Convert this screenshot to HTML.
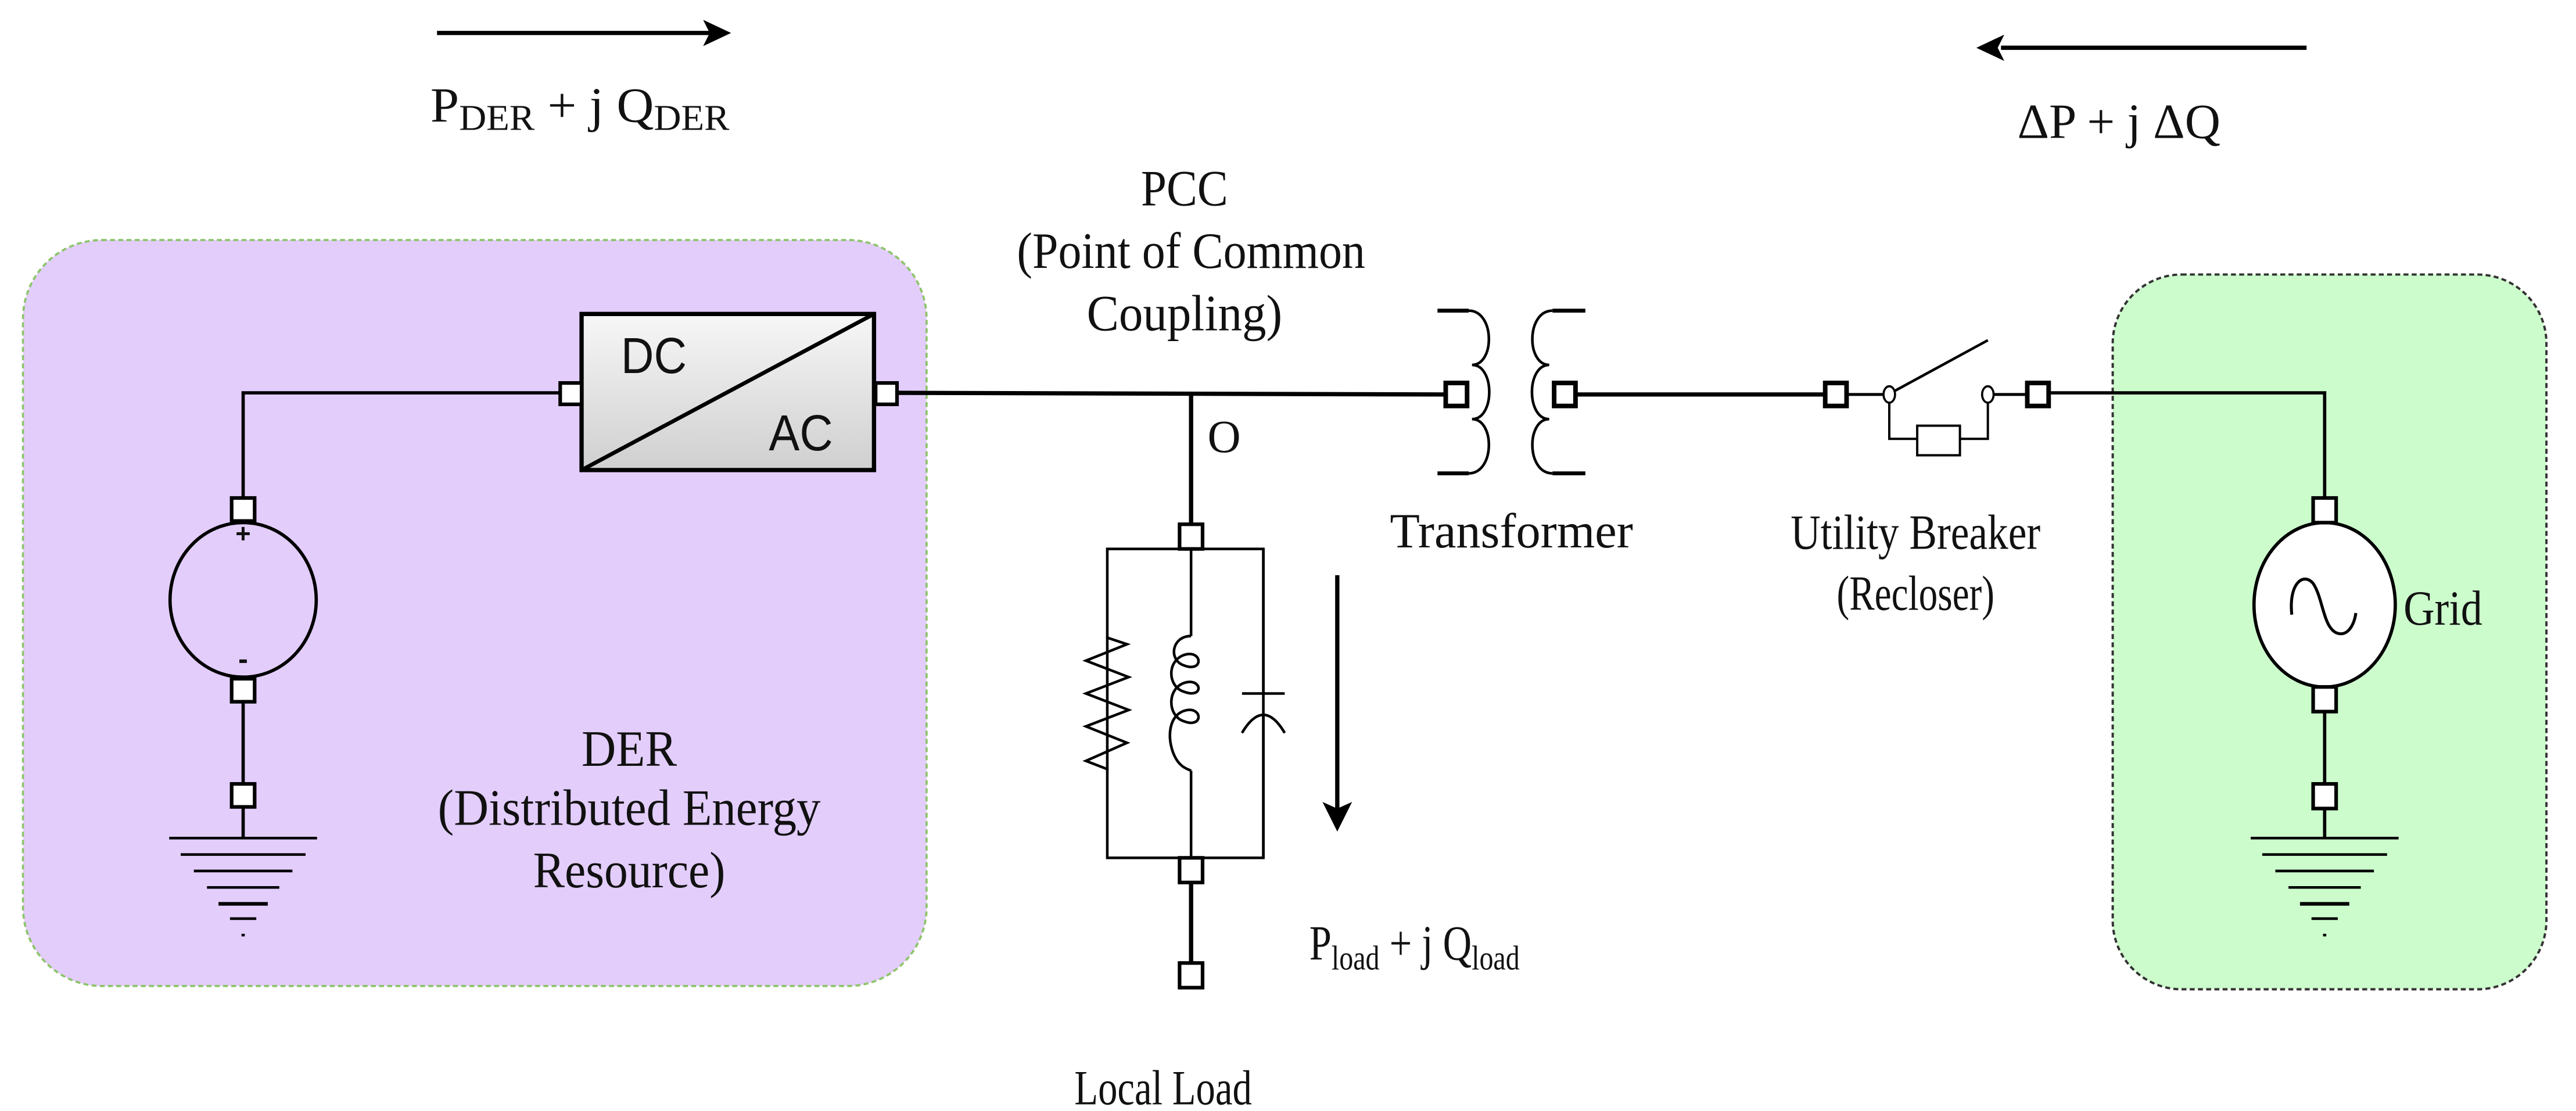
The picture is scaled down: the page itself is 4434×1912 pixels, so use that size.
<!DOCTYPE html>
<html><head><meta charset="utf-8"><style>
html,body{margin:0;padding:0;background:#fff;}
svg{display:block;}
text{font-family:"Liberation Serif",serif;fill:#111;}
.s{font-family:"Liberation Sans",sans-serif;}
</style></head><body>
<svg width="4434" height="1912" viewBox="0 0 1568 676" xmlns="http://www.w3.org/2000/svg">
<defs>
<linearGradient id="g" x1="0" y1="0" x2="0" y2="1">
<stop offset="0" stop-color="#f7f7f7"/><stop offset="1" stop-color="#cfcfcf"/>
</linearGradient>
</defs>
<rect width="1568" height="676" fill="#fff"/>
<rect x="14" y="146" width="550" height="454" rx="48" fill="#e3cdfb" stroke="#8cc46a" stroke-width="1.3" stroke-dasharray="3,2"/>
<rect x="1286" y="167" width="264" height="435" rx="42" fill="#ccfccc" stroke="#333" stroke-width="1.4" stroke-dasharray="3,2"/>

<line x1="266" y1="20" x2="432" y2="20" stroke="#000" stroke-width="2.6"/>
<polygon points="445,20 428,12 432,20 428,28" fill="#000"/>
<line x1="1404" y1="29" x2="1218" y2="29" stroke="#000" stroke-width="2.6"/>
<polygon points="1203,29 1220,21 1216,29 1220,37" fill="#000"/>
<text x="262" y="74" font-size="30" textLength="182" lengthAdjust="spacingAndGlyphs">P<tspan font-size="22" dy="5">DER</tspan><tspan dy="-5"> + j Q</tspan><tspan font-size="22" dy="5">DER</tspan></text>
<text x="1228" y="84" font-size="30">ΔP + j ΔQ</text>

<g stroke="#000" fill="none" stroke-width="2">
<polyline points="148,303 148,239 341,239"/>
<ellipse cx="148" cy="365" rx="44.5" ry="47" fill="#e3cdfb"/>
<line x1="148" y1="427" x2="148" y2="476"/>
<line x1="148" y1="492" x2="148" y2="510"/>
<g stroke-width="1.6">
<line x1="103" y1="510" x2="193" y2="510"/>
<line x1="110" y1="520" x2="186" y2="520"/>
<line x1="118" y1="530" x2="178" y2="530"/>
<line x1="126" y1="540" x2="170" y2="540"/>
<line x1="133" y1="550" x2="163" y2="550" stroke-width="2.2"/>
<line x1="140" y1="559" x2="156" y2="559"/>
<line x1="147" y1="569" x2="149" y2="569"/>
</g>
<rect x="354" y="191" width="178" height="95" fill="url(#g)" stroke-width="2.6"/>
<line x1="354" y1="286" x2="532" y2="191" stroke-width="2.4"/>
<line x1="546" y1="239" x2="880" y2="240" stroke-width="2.6"/>
<line x1="725" y1="240" x2="725" y2="319" stroke-width="2.6"/>
<rect x="674" y="334" width="95" height="188" stroke-width="1.6"/>
<line x1="725" y1="334" x2="725" y2="387" stroke-width="1.6"/>
<line x1="725" y1="469" x2="725" y2="522" stroke-width="1.6"/>
<polyline stroke-width="1.6" points="674,387 674,388 686,392 661,402 687,412 661,422 687,432 661,442 686,452 661,463 674,468 674,469"/>
<path stroke-width="1.6" d="M725,387 C713,387 711,402 721,405 C732,409 732,397 723,398 C710,400 710,418 721,421 C732,425 732,414 723,415 C710,417 710,436 721,439 C732,443 732,431 723,432 C710,434 710,452 716,462 C719,467 723,468 725,469"/>
<line x1="769" y1="334" x2="769" y2="422" stroke-width="1.6"/>
<line x1="756" y1="422" x2="782" y2="422" stroke-width="1.6"/>
<path stroke-width="1.6" d="M756,446 Q769,424 782,446"/>
<line x1="769" y1="434" x2="769" y2="522" stroke-width="1.6"/>
<line x1="725" y1="538" x2="725" y2="586" stroke-width="2.6"/>
<g stroke-width="1.6">
<line x1="875" y1="189" x2="894" y2="189" stroke-width="2.4"/>
<line x1="875" y1="288" x2="894" y2="288" stroke-width="2.4"/>
<path d="M894,189 C910,189 910,222 896,222 C910,222 910,255 896,255 C910,255 910,288 894,288"/>
<line x1="945" y1="189" x2="965" y2="189" stroke-width="2.4"/>
<line x1="945" y1="288" x2="965" y2="288" stroke-width="2.4"/>
<path d="M945,189 C929,189 929,222 943,222 C929,222 929,255 943,255 C929,255 929,288 945,288"/>
</g>
<line x1="959" y1="240" x2="1111" y2="240" stroke-width="2.6"/>
<line x1="1124" y1="240" x2="1147" y2="240" stroke-width="1.8"/>
<line x1="1153" y1="238" x2="1210" y2="207" stroke-width="1.6"/>
<line x1="1213" y1="240" x2="1234" y2="240" stroke-width="1.8"/>
<polyline stroke-width="1.4" points="1150,244 1150,267 1167,267"/>
<polyline stroke-width="1.4" points="1193,267 1210,267 1210,244"/>
<rect x="1167" y="259" width="26" height="18" fill="#fff" stroke-width="1.4"/>
<polyline points="1247,239 1415,239 1415,303"/>
<ellipse cx="1415" cy="368" rx="43" ry="50" fill="#fff"/>
<path stroke-width="1.8" d="M1395,374 C1393,355 1402,348 1408,355 C1414,364 1414,381 1422,385 C1429,388 1433,380 1434,373"/>
<line x1="1415" y1="433" x2="1415" y2="476"/>
<line x1="1415" y1="492" x2="1415" y2="510"/>
<g stroke-width="1.6">
<line x1="1370" y1="510" x2="1460" y2="510"/>
<line x1="1377" y1="520" x2="1453" y2="520"/>
<line x1="1385" y1="530" x2="1445" y2="530"/>
<line x1="1393" y1="540" x2="1437" y2="540"/>
<line x1="1400" y1="550" x2="1430" y2="550" stroke-width="2.2"/>
<line x1="1407" y1="559" x2="1423" y2="559"/>
<line x1="1414" y1="569" x2="1416" y2="569"/>
</g>
<line x1="814" y1="350" x2="814" y2="492" stroke-width="2.6"/>
</g>
<polygon points="814,506 805,488 814,492 823,488" fill="#000"/>

<g fill="#fff" stroke="#000" stroke-width="2.2">
<rect x="141" y="303" width="14" height="14"/>
<rect x="141" y="413" width="14" height="14"/>
<rect x="141" y="477" width="14" height="14"/>
<rect x="341" y="233" width="13" height="13"/>
<rect x="533" y="233" width="13" height="13"/>
<rect x="718" y="319" width="14" height="15"/>
<rect x="718" y="522" width="14" height="15"/>
<rect x="718" y="586" width="14" height="15"/>
<rect x="880" y="233" width="13" height="14" stroke-width="2.8"/>
<rect x="946" y="233" width="13" height="14" stroke-width="2.8"/>
<rect x="1111" y="233" width="13" height="14" stroke-width="2.8"/>
<rect x="1234" y="233" width="13" height="14" stroke-width="2.8"/>
<rect x="1408" y="303" width="14" height="15"/>
<rect x="1408" y="418" width="14" height="15"/>
<rect x="1408" y="477" width="14" height="15"/>
</g>
<g fill="#fff" stroke="#000" stroke-width="1.3">
<ellipse cx="1150" cy="240" rx="3.5" ry="5"/>
<ellipse cx="1210" cy="240" rx="3.5" ry="5"/>
</g>
<text x="148" y="330" font-size="16" text-anchor="middle" class="s" font-weight="bold">+</text>
<text x="148" y="407" font-size="18" text-anchor="middle" class="s" font-weight="bold">-</text>

<text x="378" y="227" font-size="31" class="s" textLength="40" lengthAdjust="spacingAndGlyphs">DC</text>
<text x="468" y="274" font-size="31" class="s" textLength="39" lengthAdjust="spacingAndGlyphs">AC</text>
<text x="383" y="466" font-size="31" text-anchor="middle" textLength="58" lengthAdjust="spacingAndGlyphs">DER</text>
<text x="383" y="502" font-size="31" text-anchor="middle" textLength="233" lengthAdjust="spacingAndGlyphs">(Distributed Energy</text>
<text x="383" y="540" font-size="31" text-anchor="middle" textLength="117" lengthAdjust="spacingAndGlyphs">Resource)</text>
<text x="721" y="125" font-size="31" text-anchor="middle" textLength="53" lengthAdjust="spacingAndGlyphs">PCC</text>
<text x="725" y="163" font-size="31" text-anchor="middle" textLength="212" lengthAdjust="spacingAndGlyphs">(Point of Common</text>
<text x="721" y="201" font-size="31" text-anchor="middle" textLength="119" lengthAdjust="spacingAndGlyphs">Coupling)</text>
<text x="735" y="275" font-size="28">O</text>
<text x="920" y="333" font-size="30" text-anchor="middle" textLength="148" lengthAdjust="spacingAndGlyphs">Transformer</text>
<text x="1166" y="334" font-size="30" text-anchor="middle" textLength="152" lengthAdjust="spacingAndGlyphs">Utility Breaker</text>
<text x="1166" y="371" font-size="30" text-anchor="middle" textLength="96" lengthAdjust="spacingAndGlyphs">(Recloser)</text>
<text x="1463" y="380" font-size="30" textLength="48" lengthAdjust="spacingAndGlyphs">Grid</text>
<text x="797" y="584" font-size="30" textLength="128" lengthAdjust="spacingAndGlyphs">P<tspan font-size="21" dy="6">load</tspan><tspan dy="-6"> + j Q</tspan><tspan font-size="21" dy="6">load</tspan></text>
<text x="708" y="672" font-size="30" text-anchor="middle" textLength="108" lengthAdjust="spacingAndGlyphs">Local Load</text>
</svg>
</body></html>
